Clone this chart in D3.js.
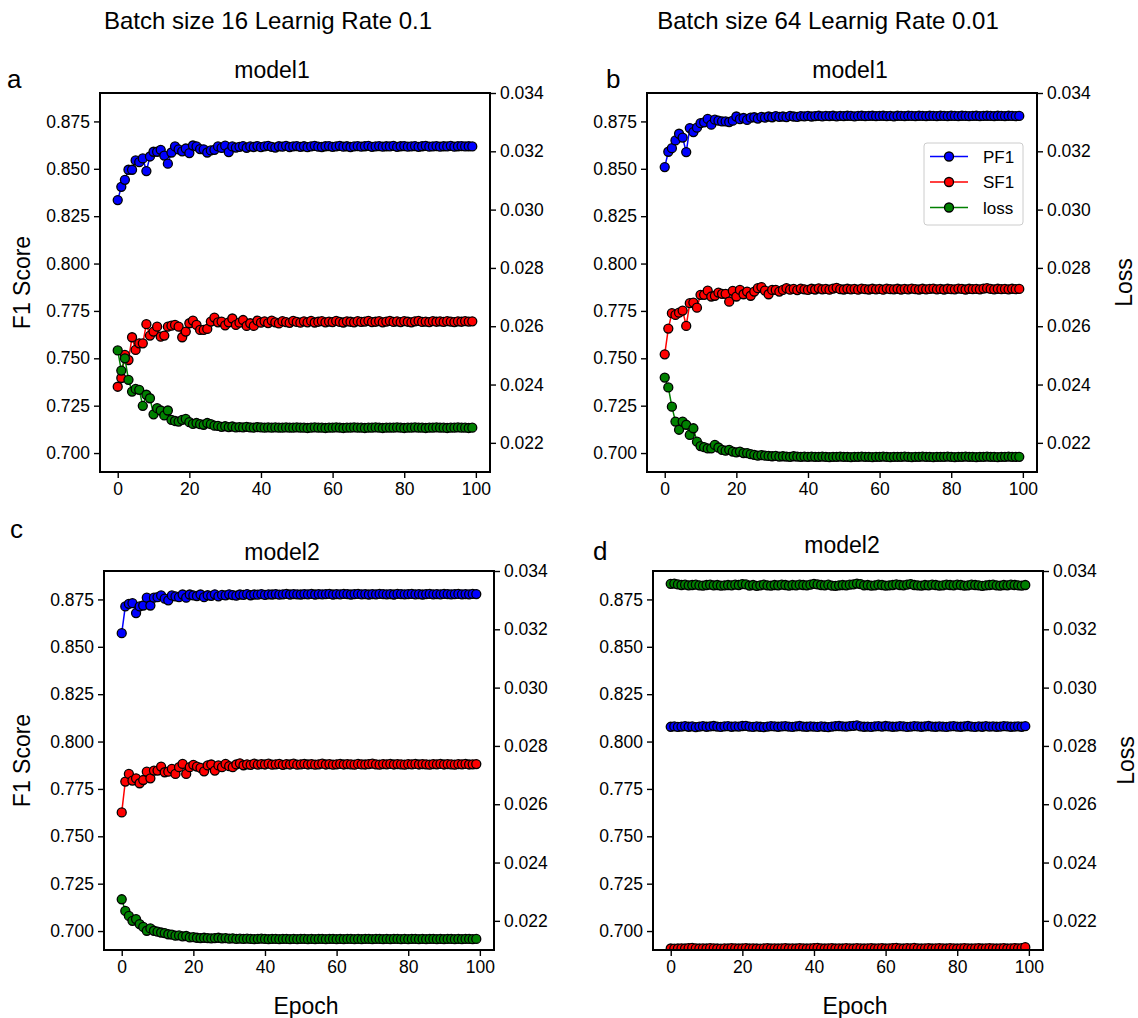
<!DOCTYPE html>
<html>
<head>
<meta charset="utf-8">
<script src="https://cdn.jsdelivr.net/npm/d3@7"></script>
<style>
body { margin: 0; background: #fff; }
text { font-family: "Liberation Sans", Arial, sans-serif; fill: #000; }
</style>
</head>
<body>
<svg id="chart" width="1138" height="1018"></svg>
<script>
// ---- data: values, one per epoch (0..99) ----
var xTicks = [0, 20, 40, 60, 80, 100];
var f1Ticks = [0.700, 0.725, 0.750, 0.775, 0.800, 0.825, 0.850, 0.875];
var lossTicks = [0.022, 0.024, 0.026, 0.028, 0.030, 0.032, 0.034];
var seriesNames = ["PF1", "SF1", "loss"];

// a: batch 16, lr 0.1, model1
var aPF1 = [0.8335,0.8405,0.8442,0.8495,0.8495,0.8544,0.8535,0.8555,0.8488,0.8565,
  0.8590,0.8590,0.8600,0.8570,0.8527,0.8586,0.8618,0.8602,0.8592,0.8607,
  0.8583,0.8623,0.8618,0.8604,0.8603,0.8586,0.8597,0.8600,0.8618,0.8610,
  0.8622,0.8588,0.8618,0.8612,0.8616,0.8620,0.8611,0.8618,0.8615,0.8620,
  0.8614,0.8618,0.8621,0.8616,0.8612,0.8619,0.8617,0.8621,0.8615,0.8618,
  0.8620,0.8616,0.8619,0.8614,0.8618,0.8621,0.8617,0.8615,0.8619,0.8620,
  0.8616,0.8618,0.8621,0.8617,0.8619,0.8615,0.8618,0.8620,0.8617,0.8619,
  0.8621,0.8616,0.8618,0.8620,0.8617,0.8619,0.8618,0.8621,0.8616,0.8619,
  0.8620,0.8617,0.8618,0.8620,0.8616,0.8619,0.8621,0.8617,0.8618,0.8620,
  0.8617,0.8619,0.8618,0.8621,0.8617,0.8619,0.8620,0.8618,0.8619,0.8618];
var aSF1 = [0.7350,0.7396,0.7518,0.7491,0.7611,0.7544,0.7579,0.7579,0.7680,0.7620,
  0.7641,0.7667,0.7614,0.7620,0.7667,0.7672,0.7676,0.7667,0.7611,0.7641,
  0.7685,0.7699,0.7676,0.7650,0.7650,0.7655,0.7694,0.7715,0.7690,0.7694,
  0.7674,0.7690,0.7710,0.7676,0.7688,0.7702,0.7671,0.7685,0.7671,0.7699,
  0.7688,0.7695,0.7686,0.7699,0.7690,0.7684,0.7696,0.7691,0.7687,0.7698,
  0.7692,0.7688,0.7695,0.7690,0.7697,0.7689,0.7693,0.7696,0.7690,0.7694,
  0.7691,0.7697,0.7692,0.7689,0.7695,0.7693,0.7690,0.7696,0.7692,0.7694,
  0.7698,0.7691,0.7693,0.7696,0.7690,0.7694,0.7697,0.7692,0.7695,0.7691,
  0.7696,0.7693,0.7690,0.7695,0.7697,0.7692,0.7694,0.7691,0.7696,0.7693,
  0.7695,0.7692,0.7696,0.7694,0.7691,0.7695,0.7693,0.7696,0.7694,0.7695];
var aLoss = [0.02517,0.02448,0.02490,0.02416,0.02376,0.02385,0.02382,0.02327,0.02365,0.02353,
  0.02298,0.02319,0.02311,0.02294,0.02311,0.02279,0.02275,0.02273,0.02279,0.02282,
  0.02271,0.02265,0.02268,0.02264,0.02262,0.02268,0.02264,0.02259,0.02258,0.02255,
  0.02257,0.02254,0.02256,0.02253,0.02254,0.02253,0.02255,0.02253,0.02252,0.02254,
  0.02253,0.02252,0.02253,0.02252,0.02253,0.02252,0.02252,0.02253,0.02252,0.02252,
  0.02253,0.02252,0.02252,0.02251,0.02252,0.02253,0.02252,0.02252,0.02251,0.02252,
  0.02252,0.02253,0.02252,0.02251,0.02252,0.02252,0.02253,0.02252,0.02252,0.02251,
  0.02252,0.02252,0.02253,0.02252,0.02251,0.02252,0.02252,0.02252,0.02253,0.02252,
  0.02251,0.02252,0.02252,0.02253,0.02252,0.02252,0.02251,0.02252,0.02252,0.02253,
  0.02252,0.02252,0.02251,0.02252,0.02252,0.02253,0.02252,0.02252,0.02251,0.02252];

// b: batch 64, lr 0.01, model1
var bPF1 = [0.8509,0.8590,0.8609,0.8650,0.8685,0.8665,0.8588,0.8715,0.8694,0.8717,
  0.8741,0.8745,0.8763,0.8733,0.8759,0.8754,0.8750,0.8750,0.8747,0.8754,
  0.8776,0.8762,0.8768,0.8758,0.8770,0.8772,0.8765,0.8774,0.8770,0.8776,
  0.8772,0.8778,0.8774,0.8776,0.8773,0.8779,0.8776,0.8774,0.8778,0.8777,
  0.8779,0.8776,0.8778,0.8780,0.8777,0.8779,0.8778,0.8780,0.8777,0.8779,
  0.8778,0.8780,0.8779,0.8777,0.8779,0.8780,0.8778,0.8779,0.8780,0.8778,
  0.8779,0.8780,0.8778,0.8779,0.8777,0.8780,0.8779,0.8778,0.8780,0.8779,
  0.8778,0.8780,0.8779,0.8778,0.8780,0.8779,0.8778,0.8780,0.8779,0.8778,
  0.8780,0.8779,0.8778,0.8780,0.8779,0.8778,0.8779,0.8780,0.8778,0.8779,
  0.8780,0.8779,0.8778,0.8780,0.8779,0.8778,0.8780,0.8779,0.8778,0.8779];
var bSF1 = [0.7521,0.7657,0.7738,0.7729,0.7741,0.7752,0.7671,0.7791,0.7794,0.7767,
  0.7835,0.7835,0.7857,0.7826,0.7830,0.7847,0.7840,0.7840,0.7799,0.7856,
  0.7826,0.7861,0.7838,0.7852,0.7830,0.7852,0.7870,0.7876,0.7857,0.7838,
  0.7861,0.7861,0.7852,0.7861,0.7870,0.7862,0.7866,0.7860,0.7868,0.7864,
  0.7861,0.7867,0.7863,0.7869,0.7864,0.7866,0.7862,0.7868,0.7872,0.7865,
  0.7863,0.7867,0.7864,0.7866,0.7862,0.7868,0.7865,0.7863,0.7867,0.7864,
  0.7866,0.7862,0.7868,0.7865,0.7864,0.7867,0.7863,0.7866,0.7864,0.7868,
  0.7865,0.7863,0.7867,0.7864,0.7866,0.7868,0.7864,0.7866,0.7863,0.7867,
  0.7865,0.7864,0.7868,0.7866,0.7863,0.7867,0.7865,0.7866,0.7864,0.7868,
  0.7870,0.7866,0.7864,0.7867,0.7865,0.7866,0.7864,0.7867,0.7865,0.7866];
var bLoss = [0.02424,0.02390,0.02324,0.02273,0.02245,0.02273,0.02262,0.02227,0.02250,0.02204,
  0.02189,0.02185,0.02181,0.02181,0.02193,0.02184,0.02176,0.02173,0.02176,0.02170,
  0.02167,0.02170,0.02165,0.02165,0.02161,0.02159,0.02156,0.02158,0.02156,0.02155,
  0.02154,0.02155,0.02153,0.02154,0.02153,0.02152,0.02154,0.02153,0.02152,0.02153,
  0.02152,0.02153,0.02152,0.02152,0.02153,0.02152,0.02151,0.02152,0.02152,0.02153,
  0.02152,0.02152,0.02151,0.02152,0.02152,0.02153,0.02152,0.02152,0.02151,0.02152,
  0.02152,0.02153,0.02152,0.02151,0.02152,0.02152,0.02152,0.02153,0.02152,0.02151,
  0.02152,0.02152,0.02153,0.02152,0.02152,0.02151,0.02152,0.02152,0.02152,0.02153,
  0.02152,0.02151,0.02152,0.02152,0.02153,0.02152,0.02152,0.02151,0.02152,0.02152,
  0.02153,0.02152,0.02152,0.02151,0.02152,0.02152,0.02153,0.02152,0.02152,0.02152];

// c: batch 16, lr 0.1, model2
var cPF1 = [0.8572,0.8713,0.8727,0.8730,0.8678,0.8713,0.8718,0.8759,0.8718,0.8759,
  0.8762,0.8771,0.8754,0.8745,0.8771,0.8766,0.8762,0.8776,0.8759,0.8776,
  0.8771,0.8768,0.8776,0.8762,0.8772,0.8769,0.8777,0.8766,0.8774,0.8771,
  0.8777,0.8773,0.8770,0.8776,0.8774,0.8778,0.8772,0.8776,0.8775,0.8778,
  0.8774,0.8777,0.8776,0.8778,0.8775,0.8777,0.8779,0.8776,0.8778,0.8777,
  0.8776,0.8778,0.8777,0.8779,0.8776,0.8778,0.8777,0.8778,0.8779,0.8776,
  0.8778,0.8777,0.8779,0.8778,0.8776,0.8778,0.8779,0.8777,0.8778,0.8776,
  0.8778,0.8777,0.8779,0.8778,0.8777,0.8778,0.8776,0.8779,0.8778,0.8777,
  0.8778,0.8779,0.8777,0.8778,0.8776,0.8778,0.8779,0.8777,0.8778,0.8777,
  0.8779,0.8778,0.8777,0.8778,0.8779,0.8777,0.8778,0.8777,0.8779,0.8778];
var cSF1 = [0.7626,0.7789,0.7829,0.7794,0.7806,0.7780,0.7797,0.7841,0.7806,0.7847,
  0.7847,0.7868,0.7838,0.7841,0.7856,0.7829,0.7865,0.7882,0.7829,0.7865,
  0.7877,0.7868,0.7861,0.7843,0.7874,0.7879,0.7847,0.7874,0.7865,0.7882,
  0.7870,0.7865,0.7879,0.7885,0.7875,0.7880,0.7877,0.7883,0.7878,0.7881,
  0.7879,0.7883,0.7878,0.7880,0.7882,0.7877,0.7881,0.7879,0.7883,0.7878,
  0.7880,0.7882,0.7879,0.7881,0.7878,0.7880,0.7883,0.7879,0.7881,0.7878,
  0.7880,0.7882,0.7879,0.7881,0.7880,0.7878,0.7882,0.7880,0.7879,0.7881,
  0.7883,0.7880,0.7878,0.7881,0.7880,0.7882,0.7879,0.7881,0.7880,0.7878,
  0.7881,0.7880,0.7882,0.7879,0.7881,0.7880,0.7878,0.7881,0.7880,0.7882,
  0.7879,0.7881,0.7880,0.7878,0.7881,0.7880,0.7882,0.7879,0.7880,0.7881];
var cLoss = [0.02274,0.02234,0.02217,0.02200,0.02206,0.02189,0.02179,0.02166,0.02174,0.02166,
  0.02163,0.02160,0.02158,0.02154,0.02153,0.02149,0.02150,0.02147,0.02148,0.02143,
  0.02144,0.02142,0.02141,0.02142,0.02141,0.02140,0.02141,0.02142,0.02140,0.02141,
  0.02139,0.02140,0.02138,0.02139,0.02138,0.02139,0.02138,0.02137,0.02138,0.02139,
  0.02138,0.02137,0.02138,0.02138,0.02137,0.02138,0.02138,0.02137,0.02138,0.02137,
  0.02138,0.02138,0.02137,0.02138,0.02137,0.02138,0.02138,0.02137,0.02138,0.02138,
  0.02137,0.02138,0.02137,0.02138,0.02138,0.02137,0.02138,0.02137,0.02138,0.02138,
  0.02137,0.02138,0.02138,0.02137,0.02138,0.02137,0.02138,0.02138,0.02137,0.02138,
  0.02137,0.02138,0.02138,0.02137,0.02138,0.02137,0.02138,0.02138,0.02137,0.02138,
  0.02137,0.02138,0.02138,0.02137,0.02138,0.02137,0.02138,0.02138,0.02137,0.02138];

// d: batch 64, lr 0.01, model2
var dPF1 = [0.8078,0.8080,0.8077,0.8079,0.8081,0.8078,0.8080,0.8076,0.8079,0.8081,
  0.8078,0.8080,0.8082,0.8079,0.8077,0.8080,0.8081,0.8078,0.8080,0.8079,
  0.8082,0.8083,0.8079,0.8077,0.8080,0.8078,0.8076,0.8079,0.8081,0.8080,
  0.8078,0.8080,0.8081,0.8079,0.8077,0.8080,0.8082,0.8079,0.8078,0.8080,
  0.8079,0.8077,0.8080,0.8078,0.8076,0.8079,0.8081,0.8082,0.8080,0.8079,
  0.8081,0.8083,0.8085,0.8080,0.8078,0.8079,0.8077,0.8080,0.8081,0.8079,
  0.8082,0.8080,0.8078,0.8079,0.8081,0.8080,0.8077,0.8079,0.8081,0.8080,
  0.8078,0.8080,0.8082,0.8079,0.8078,0.8080,0.8079,0.8077,0.8080,0.8081,
  0.8079,0.8078,0.8080,0.8082,0.8079,0.8077,0.8080,0.8078,0.8081,0.8079,
  0.8080,0.8078,0.8079,0.8081,0.8080,0.8078,0.8079,0.8080,0.8078,0.8081];
var dSF1 = [0.6908,0.6907,0.6908,0.6909,0.6908,0.6910,0.6911,0.6909,0.6908,0.6909,
  0.6908,0.6910,0.6909,0.6908,0.6907,0.6909,0.6908,0.6910,0.6909,0.6908,
  0.6909,0.6910,0.6908,0.6909,0.6908,0.6907,0.6909,0.6910,0.6908,0.6909,
  0.6908,0.6909,0.6910,0.6908,0.6909,0.6908,0.6910,0.6909,0.6908,0.6909,
  0.6910,0.6911,0.6909,0.6908,0.6909,0.6910,0.6908,0.6909,0.6908,0.6910,
  0.6909,0.6908,0.6910,0.6909,0.6908,0.6909,0.6910,0.6908,0.6909,0.6910,
  0.6908,0.6909,0.6910,0.6911,0.6909,0.6908,0.6910,0.6909,0.6911,0.6909,
  0.6908,0.6909,0.6910,0.6908,0.6909,0.6910,0.6909,0.6908,0.6910,0.6909,
  0.6908,0.6909,0.6910,0.6909,0.6908,0.6909,0.6910,0.6908,0.6909,0.6910,
  0.6909,0.6908,0.6909,0.6910,0.6908,0.6909,0.6910,0.6909,0.6910,0.6915];
var dLoss = [0.03356,0.03357,0.03354,0.03352,0.03353,0.03351,0.03352,0.03353,0.03351,0.03350,
  0.03352,0.03353,0.03351,0.03352,0.03350,0.03351,0.03352,0.03351,0.03353,0.03352,
  0.03355,0.03354,0.03350,0.03352,0.03349,0.03351,0.03353,0.03351,0.03350,0.03352,
  0.03351,0.03353,0.03352,0.03350,0.03352,0.03351,0.03353,0.03352,0.03351,0.03353,
  0.03356,0.03354,0.03352,0.03351,0.03353,0.03350,0.03349,0.03351,0.03352,0.03351,
  0.03353,0.03354,0.03357,0.03355,0.03351,0.03352,0.03350,0.03351,0.03353,0.03352,
  0.03350,0.03351,0.03352,0.03354,0.03352,0.03351,0.03353,0.03355,0.03352,0.03351,
  0.03350,0.03352,0.03351,0.03353,0.03352,0.03350,0.03351,0.03353,0.03352,0.03351,
  0.03353,0.03352,0.03350,0.03351,0.03353,0.03352,0.03351,0.03349,0.03351,0.03352,
  0.03353,0.03351,0.03350,0.03352,0.03351,0.03353,0.03352,0.03351,0.03350,0.03352];

// ---- layout ----
var W = 390, H = 379;
var colors = { PF1: "#0000ff", SF1: "#ff0000", loss: "#008000" };
var fmt = d3.format(".3f");

var panels = [
  { key: "a", left: 100, top: 93, data: [aPF1, aSF1, aLoss], title: "model1",
    titleX: 272, titleY: 78, letterX: 7, letterY: 88, f1Label: true },
  { key: "b", left: 647, top: 93, data: [bPF1, bSF1, bLoss], title: "model1",
    titleX: 850, titleY: 78, letterX: 606, letterY: 88, lossX: 1132, legend: true },
  { key: "c", left: 104, top: 571, data: [cPF1, cSF1, cLoss], title: "model2",
    titleX: 282, titleY: 560, letterX: 10, letterY: 538, f1Label: true, epochLabel: true },
  { key: "d", left: 653, top: 571, data: [dPF1, dSF1, dLoss], title: "model2",
    titleX: 842, titleY: 553, letterX: 593, letterY: 560, lossX: 1134, epochLabel: true }
];

var svg = d3.select("#chart");

svg.append("text").attr("x", 268).attr("y", 29).attr("text-anchor", "middle")
  .style("font-size", "24px").text("Batch size 16 Learnig Rate 0.1");
svg.append("text").attr("x", 828).attr("y", 29).attr("text-anchor", "middle")
  .style("font-size", "24px").text("Batch size 64 Learnig Rate 0.01");

function styleAxis(sel) {
  sel.select(".domain").remove();
  sel.selectAll(".tick line").attr("stroke", "#000").attr("stroke-width", 1.4);
  sel.selectAll(".tick text").style("font-size", "17.5px").attr("fill", "#000");
}

panels.forEach(function (p) {
  var x = d3.scaleLinear().domain([-4.95, 103.95]).range([0, W]);
  var yL = d3.scaleLinear().domain([0.69, 0.89]).range([H, 0]);
  var yR = d3.scaleLinear().domain([0.021, 0.034]).range([H, 0]);
  var scales = [yL, yL, yR];

  svg.append("text").attr("x", p.letterX).attr("y", p.letterY)
    .style("font-size", "26px").text(p.key);
  svg.append("text").attr("x", p.titleX).attr("y", p.titleY).attr("text-anchor", "middle")
    .style("font-size", "23px").text(p.title);

  var g = svg.append("g").attr("transform", "translate(" + p.left + "," + p.top + ")");

  g.append("clipPath").attr("id", "clip-" + p.key)
    .append("rect").attr("width", W).attr("height", H);

  g.append("g").attr("transform", "translate(0," + H + ")")
    .call(d3.axisBottom(x).tickValues(xTicks).tickSize(6).tickPadding(5).tickFormat(d3.format("d")))
    .call(styleAxis);
  g.append("g")
    .call(d3.axisLeft(yL).tickValues(f1Ticks).tickSize(6).tickPadding(4).tickFormat(fmt))
    .call(styleAxis);
  g.append("g").attr("transform", "translate(" + W + ",0)")
    .call(d3.axisRight(yR).tickValues(lossTicks).tickSize(6).tickPadding(4).tickFormat(fmt))
    .call(styleAxis);

  var plot = g.append("g").attr("clip-path", "url(#clip-" + p.key + ")");
  p.data.forEach(function (vals, si) {
    var name = seriesNames[si], y = scales[si];
    var line = d3.line().x(function (d, i) { return x(i); }).y(function (d) { return y(d); });
    plot.append("path").datum(vals).attr("d", line)
      .attr("fill", "none").attr("stroke", colors[name]).attr("stroke-width", 1.5);
    plot.selectAll(".m" + si).data(vals).enter().append("circle")
      .attr("class", "m" + si)
      .attr("cx", function (d, i) { return x(i); })
      .attr("cy", function (d) { return y(d); })
      .attr("r", 4.5)
      .attr("fill", colors[name]).attr("stroke", "#000").attr("stroke-width", 1.3);
  });

  g.append("rect").attr("width", W).attr("height", H)
    .attr("fill", "none").attr("stroke", "#000").attr("stroke-width", 2);

  if (p.f1Label) {
    svg.append("text").attr("transform", "translate(30," + (p.top + H / 2) + ") rotate(-90)")
      .attr("text-anchor", "middle").style("font-size", "23px").text("F1 Score");
  }
  if (p.lossX) {
    svg.append("text").attr("transform", "translate(" + p.lossX + "," + (p.top + H / 2) + ") rotate(-90)")
      .attr("text-anchor", "middle").style("font-size", "23px").text("Loss");
  }
  if (p.epochLabel) {
    g.append("text").attr("x", W / 2 + 7).attr("y", H + 64).attr("text-anchor", "middle")
      .style("font-size", "23px").text("Epoch");
  }

  if (p.legend) {
    var lg = g.append("g").attr("transform", "translate(277,50)");
    lg.append("rect").attr("width", 99).attr("height", 82).attr("rx", 3)
      .attr("fill", "#fff").attr("fill-opacity", 0.8).attr("stroke", "#cccccc").attr("stroke-width", 1);
    seriesNames.forEach(function (name, i) {
      var ry = 13.5 + i * 25.5;
      lg.append("line").attr("x1", 6).attr("x2", 44).attr("y1", ry).attr("y2", ry)
        .attr("stroke", colors[name]).attr("stroke-width", 1.5);
      lg.append("circle").attr("cx", 25).attr("cy", ry).attr("r", 4.5)
        .attr("fill", colors[name]).attr("stroke", "#000").attr("stroke-width", 1.3);
      lg.append("text").attr("x", 59).attr("y", ry + 6).style("font-size", "17px").text(name);
    });
  }
});
</script>
</body>
</html>
